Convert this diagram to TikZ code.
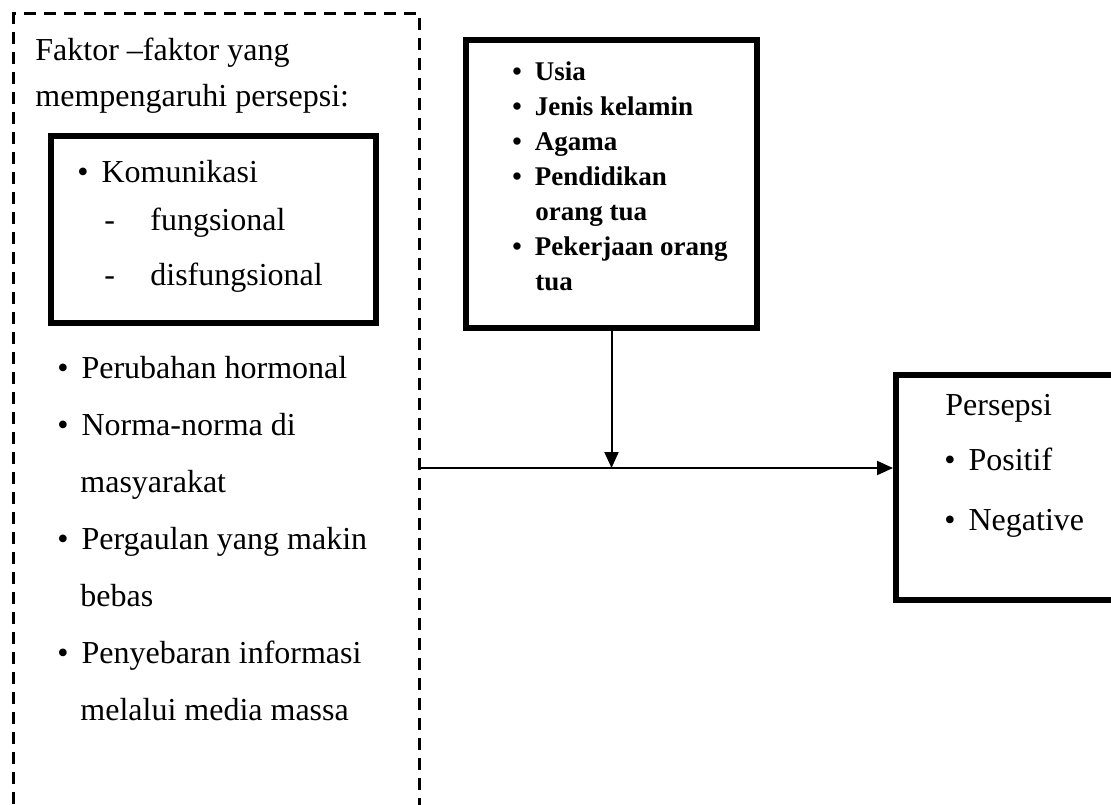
\documentclass[tikz,border=0pt]{standalone}
\usepackage{fontspec}
\setmainfont{Liberation Serif}
\usetikzlibrary{arrows.meta}

\newcommand{\titik}{\textbullet\hspace{6.5pt}}

\tikzset{
  txt/.style={anchor=base west, inner sep=0pt, font=\fontsize{16}{19}\selectfont},
  midtxt/.style={anchor=base west, inner sep=0pt, font=\fontsize{13.5}{16}\selectfont\bfseries},
  thickbox/.style={draw, line width=3pt, anchor=north west, inner sep=0pt},
  panah/.style={line width=1pt, -{Triangle[length=8pt,width=7pt]}},
}

\begin{document}
\begin{tikzpicture}[x=0.5pt,y=-0.5pt]
\useasboundingbox (0,0) rectangle (1111,804);

% Dashed frame of the factors (open at the bottom)
\node[draw, dash pattern=on 6pt off 4pt, line width=1.5pt, anchor=north west,
      inner sep=0pt, minimum width=203pt, minimum height=405pt] (faktorbox) at (12,12) {};
\node[txt] (judul1) at (35,60) {Faktor –faktor yang};
\node[txt] (judul2) at (35,106) {mempengaruhi persepsi:};

% Communication box
\node[thickbox, minimum width=162.5pt, minimum height=93.5pt] (komunikasibox) at (48,133) {};
\node[txt] (komunikasi) at (77,182) {\titik Komunikasi};
\node[txt] (fungsional) at (104,230) {\makebox[23pt][l]{-}fungsional};
\node[txt] (disfungsional) at (104,285) {\makebox[23pt][l]{-}disfungsional};

% Other factors
\node[txt] (hormonal) at (57,378) {\titik Perubahan hormonal};
\node[txt] (norma) at (57,435) {\titik Norma-norma di};
\node[txt] (norma2) at (80,492) {masyarakat};
\node[txt] (pergaulan) at (57,549) {\titik Pergaulan yang makin};
\node[txt] (pergaulan2) at (80,606) {bebas};
\node[txt] (informasi) at (57,663) {\titik Penyebaran informasi};
\node[txt] (informasi2) at (80,720) {melalui media massa};

% Characteristics box
\node[thickbox, minimum width=145.5pt, minimum height=144pt] (usiabox) at (463,37) {};
\node[midtxt] (usia) at (512,80) {\titik Usia};
\node[midtxt] (kelamin) at (512,115) {\titik Jenis kelamin};
\node[midtxt] (agama) at (512,150) {\titik Agama};
\node[midtxt] (pendidikan) at (512,185) {\titik Pendidikan};
\node[midtxt] (pendidikan2) at (535,220) {orang tua};
\node[midtxt] (pekerjaan) at (512,255) {\titik Pekerjaan orang};
\node[midtxt] (pekerjaan2) at (535,290) {tua};

% Perception box (cut by the right edge)
\node[thickbox, minimum width=116pt, minimum height=112.5pt] (persepsibox) at (893,372) {};
\node[txt] (persepsi) at (945,415) {Persepsi};
\node[txt] (positif) at (944,470) {\titik Positif};
\node[txt] (negatif) at (944,530) {\titik Negative};

% Arrows
\coordinate (temu) at (usiabox.south |- 0,468);
\draw[panah] (usiabox.south) -- (temu);
\draw[panah] (faktorbox.east |- temu) -- (persepsibox.west |- temu);
\end{tikzpicture}
\end{document}
